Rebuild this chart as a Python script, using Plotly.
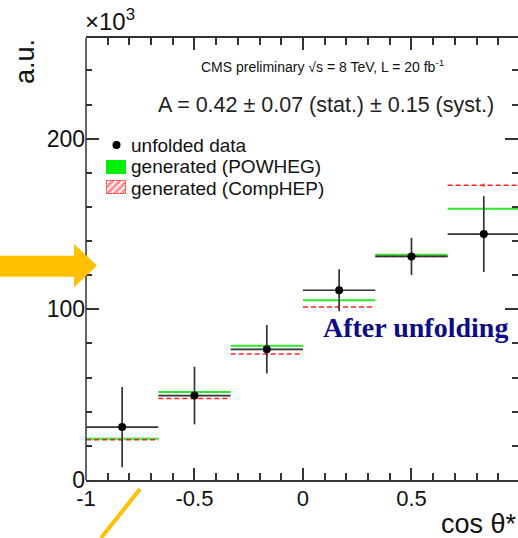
import plotly.graph_objects as go

# ---------------- data (values in units of 10^3) ----------------
bin_edges = [-1.0, -2/3, -1/3, 0.0, 1/3, 2/3, 1.0]
data_vals = [31.0, 49.5, 76.6, 111.2, 131.0, 144.1]
data_errs = [23.5, 16.9, 14.2, 12.3, 10.9, 22.2]
powheg_vals = [24.2, 51.6, 78.6, 105.4, 132.0, 159.0]
comphep_vals = [23.6, 47.7, 73.9, 101.4, 130.9, 172.7]
comphep_errs = [1.0, 1.0, 1.0, 1.0, 1.0, 1.0]
x_tick_vals = [-1, -0.5, 0, 0.5, 1]
x_tick_text = ["-1", "-0.5", "0", "0.5", "1"]
y_tick_vals = [0, 100, 200]
y_tick_text = ["0", "100", "200"]
legend_labels = ["unfolded data", "generated (POWHEG)", "generated (CompHEP)"]

lo = bin_edges[:-1]
hi = bin_edges[1:]
centers = [(a + b) / 2 for a, b in zip(lo, hi)]
halfw = [(b - a) / 2 for a, b in zip(lo, hi)]


def segments(vals):
    xs, ys = [], []
    for a, b, v in zip(lo, hi, vals):
        xs += [a, b, None]
        ys += [v, v, None]
    return xs, ys


FONT = "Liberation Sans, Arial, sans-serif"
AXC = "#333333"
TXT = "#111111"
GREEN = "#2bea2b"
RED = "#ff2222"
ORANGE = "#FFC000"

W, H = 518, 538
L, R, T, B = 86, 0, 38, 58
PW = W - L - R
PH = H - T - B


def px(x):
    return (x - L) / PW


def py(y):
    return (H - B - y) / PH


fig = go.Figure()

# generated (POWHEG) lines
gx, gy = segments(powheg_vals)
fig.add_trace(go.Scatter(x=gx, y=gy, mode="lines", line=dict(color=GREEN, width=2),
                         showlegend=False, hoverinfo="skip"))
# generated (CompHEP) dashed lines
rx, ry = segments(comphep_vals)
fig.add_trace(go.Scatter(x=rx, y=ry, mode="lines", line=dict(color=RED, width=1.5, dash="5px,3px"),
                         showlegend=False, hoverinfo="skip"))
fig.add_trace(go.Scatter(x=centers, y=comphep_vals, mode="markers", marker=dict(size=1, color=RED),
                         error_y=dict(type="data", array=comphep_errs, color=RED, thickness=1.2, width=0),
                         showlegend=False, hoverinfo="skip"))
# unfolded data
fig.add_trace(go.Scatter(
    x=centers, y=data_vals, mode="markers", name=legend_labels[0], showlegend=False,
    marker=dict(color="black", size=8),
    error_y=dict(type="data", array=data_errs, color=AXC, thickness=1.7, width=0),
    error_x=dict(type="data", array=halfw, color=AXC, thickness=1.7, width=0),
))

# ---- legend swatches drawn on an overlay axis in pixel units ----
fig.add_trace(go.Scatter(x=[116.5], y=[145], mode="markers", marker=dict(color="black", size=8),
                         xaxis="x2", yaxis="y2", showlegend=False, hoverinfo="skip"))
fig.add_trace(go.Scatter(x=[106, 126, 126, 106, 106], y=[160, 160, 174, 174, 160], mode="lines",
                         fill="toself", fillcolor="#00ee00", line=dict(width=0, color="#00ee00"),
                         xaxis="x2", yaxis="y2", showlegend=False, hoverinfo="skip"))
fig.add_trace(go.Scatter(x=[106.5, 125.5, 125.5, 106.5, 106.5], y=[180.5, 180.5, 193.5, 193.5, 180.5],
                         mode="lines", fill="toself", fillcolor="white",
                         fillpattern=dict(shape="/", fgcolor=RED, bgcolor="white", size=5, solidity=0.6),
                         line=dict(width=1, color=RED, dash="2px,1px"),
                         xaxis="x2", yaxis="y2", showlegend=False, hoverinfo="skip"))

fig.update_layout(
    width=W, height=H,
    margin=dict(l=L, r=R, t=T, b=B),
    paper_bgcolor="white", plot_bgcolor="white",
    font=dict(family=FONT, color=TXT),
    showlegend=False,
    xaxis=dict(range=[-1, 0.991], tickvals=x_tick_vals, ticktext=x_tick_text,
               ticks="inside", ticklen=12, tickwidth=1.5, tickcolor=AXC,
               minor=dict(ticks="inside", ticklen=7, dtick=0.1, tick0=0, tickwidth=1.5, tickcolor=AXC),
               showline=True, linecolor=AXC, linewidth=1.5, mirror="ticks",
               showgrid=False, zeroline=False, tickfont=dict(size=22, family=FONT, color=TXT),
               ticklabelstandoff=-2),
    yaxis=dict(range=[0, 259], tickvals=y_tick_vals, ticktext=y_tick_text,
               ticks="inside", ticklen=13, tickwidth=1.5, tickcolor=AXC,
               minor=dict(ticks="inside", ticklen=6, dtick=20, tick0=0, tickwidth=1.5, tickcolor=AXC),
               showline=False, mirror="ticks",
               showgrid=False, zeroline=False, tickfont=dict(size=23, family=FONT, color=TXT)),
    xaxis2=dict(overlaying="x", range=[L, W - R], visible=False, anchor="y2", fixedrange=True),
    yaxis2=dict(overlaying="y", range=[H - B, T], visible=False, anchor="x2", fixedrange=True),
)

shapes = [
    # left frame line
    dict(type="line", xref="paper", yref="paper", x0=0, x1=0, y0=0, y1=1,
         line=dict(color=AXC, width=1.5), layer="above"),
    # orange arrow
    dict(type="path", xref="paper", yref="paper",
         path=(f"M{px(0)},{py(255.7)} L{px(74)},{py(255.7)} L{px(74)},{py(244)} "
               f"L{px(97)},{py(265.5)} L{px(74)},{py(287.3)} L{px(74)},{py(276.7)} "
               f"L{px(0)},{py(276.7)} Z"),
         fillcolor=ORANGE, line=dict(width=0), layer="above"),
    # orange slanted line
    dict(type="line", xref="paper", yref="paper", x0=px(140), y0=py(489), x1=px(101), y1=py(538),
         line=dict(color=ORANGE, width=4), layer="above"),
]
fig.update_layout(shapes=shapes)

annotations = [
    dict(text="×10<sup>3</sup>", x=px(83), y=py(37), xanchor="left", yanchor="bottom",
         font=dict(size=24, family=FONT, color=TXT)),
    dict(text="a.u.", x=px(25), y=py(62), xanchor="center", yanchor="middle", textangle=-90,
         font=dict(size=27, family=FONT, color=TXT)),
    dict(text="cos θ*", x=px(439), y=py(524), xanchor="left", yanchor="middle",
         font=dict(size=27, family=FONT, color=TXT)),
    dict(text="CMS preliminary √s = 8 TeV, L = 20 fb<sup>-1</sup>", x=px(322), y=py(66),
         xanchor="center", yanchor="middle", font=dict(size=14, family=FONT, color=TXT)),
    dict(text="A = 0.42 ± 0.07 (stat.) ± 0.15 (syst.)", x=px(326), y=py(105),
         xanchor="center", yanchor="middle", font=dict(size=21.5, family=FONT, color="#222222")),
    dict(text="<b>After unfolding</b>", x=px(415), y=py(327), xanchor="center", yanchor="middle",
         font=dict(size=28, family="Liberation Serif, Times New Roman, serif", color="#0c0c8a")),
]
for lab, yy in zip(legend_labels, [145, 167, 188]):
    annotations.append(dict(text=lab, x=px(129), y=py(yy), xanchor="left", yanchor="middle",
                            font=dict(size=19, family=FONT, color=TXT)))
for a in annotations:
    a.update(xref="paper", yref="paper", showarrow=False)
fig.update_layout(annotations=annotations)

fig.write_html("out.html", config={"displayModeBar": False},
               post_script="document.body.style.margin='0';")
